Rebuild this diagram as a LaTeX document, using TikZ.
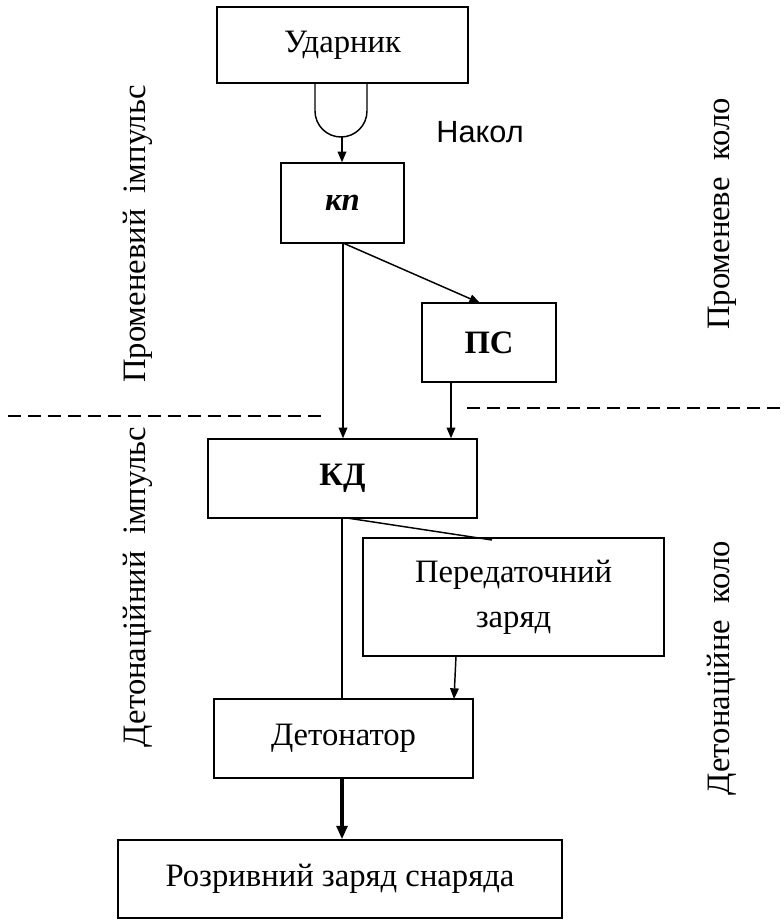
\documentclass[tikz,border=0pt]{standalone}
\usepackage{fontspec}
\setmainfont{Liberation Serif}
\newfontfamily\arialfont{Liberation Sans}
\usetikzlibrary{arrows.meta,calc}
\tikzset{
  bx/.style={draw, line width=1.1pt, inner sep=0pt, align=center,
             font=\fontsize{24.5}{34}\selectfont},
  conn/.style={line width=1.1pt},
  arr/.style={conn, -{Triangle[length=8pt,width=6.5pt]}},
  thickarr/.style={line width=3pt, -{Triangle[length=10pt,width=8pt]}},
  sep/.style={line width=1.1pt, dash pattern=on 10pt off 5pt},
  side/.style={rotate=90, font=\fontsize{24.5}{30}\selectfont},
}
\begin{document}
\begin{tikzpicture}[x=0.75pt,y=-0.75pt]
\useasboundingbox (0,0) rectangle (783,920);

\node[bx, minimum width=251*0.75pt, minimum height=76*0.75pt] (udar) at (342.5,45) {Ударник};
\node[bx, minimum width=123*0.75pt, minimum height=80*0.75pt] (kp) at (342.5,203) {\textbf{\textit{кп}}};
\node[bx, minimum width=134*0.75pt, minimum height=79*0.75pt] (ps) at (489,342.5) {\textbf{ПС}};
\node[bx, minimum width=269*0.75pt, minimum height=79*0.75pt] (kd) at (342.5,478.5) {\textbf{КД}};
\node[bx, minimum width=301*0.75pt, minimum height=118*0.75pt] (per) at (513.5,597) {Передаточний\\заряд};
\node[bx, minimum width=259*0.75pt, minimum height=79*0.75pt] (det) at (343.5,738.5) {Детонатор};
\node[bx, minimum width=444*0.75pt, minimum height=78*0.75pt] (roz) at (340,879) {Розривний заряд снаряда};

% striker tip (накол)
\draw[conn] (315,83) -- (315,111) arc[start angle=180, end angle=360, radius=26*0.75pt] -- (367,83);
\coordinate (nk) at (342,137);
\node[font=\arialfont\fontsize{23}{28}\selectfont] (nakol) at (480,132) {Накол};

% side labels
\node[side] (pi) at (138,234) {Променевий\ \ імпульс};
\node[side] (pk) at (722,214) {Променеве\ \ коло};
\node[side] (di) at (138,587) {Детонаційний\ \ імпульс};
\node[side] (dk) at (722,668) {Детонаційне\ \ коло};

% separators
\coordinate (l1) at (8,416); \coordinate (l2) at (325,416);
\coordinate (r1) at (467,408); \coordinate (r2) at (783,408);
\draw[sep] (l1) -- (l2);
\draw[sep] (r1) -- (r2);

% connectors
\coordinate (kpout) at (343,243);
\coordinate (psin) at (480,303);
\coordinate (psout) at (451,382);
\coordinate (kdout) at (342,518);
\coordinate (kdout2) at (347,518);
\coordinate (perin) at (492,540);
\coordinate (perout) at (456,656);
\coordinate (detin) at (454,699);
\draw[arr] (nk) -- (kp.north -| nk);
\draw[arr] (kpout) -- (kpout |- kd.north);
\draw[arr] (kpout) -- (psin);
\draw[arr] (psout) -- (psout |- kd.north);
\draw[conn] (kdout) -- (kdout |- det.north);
\draw[conn] (kdout2) -- (perin);
\draw[arr] (perout) -- (detin);
\draw[thickarr] (det.south -| kdout) -- (roz.north -| kdout);
\end{tikzpicture}
\end{document}
